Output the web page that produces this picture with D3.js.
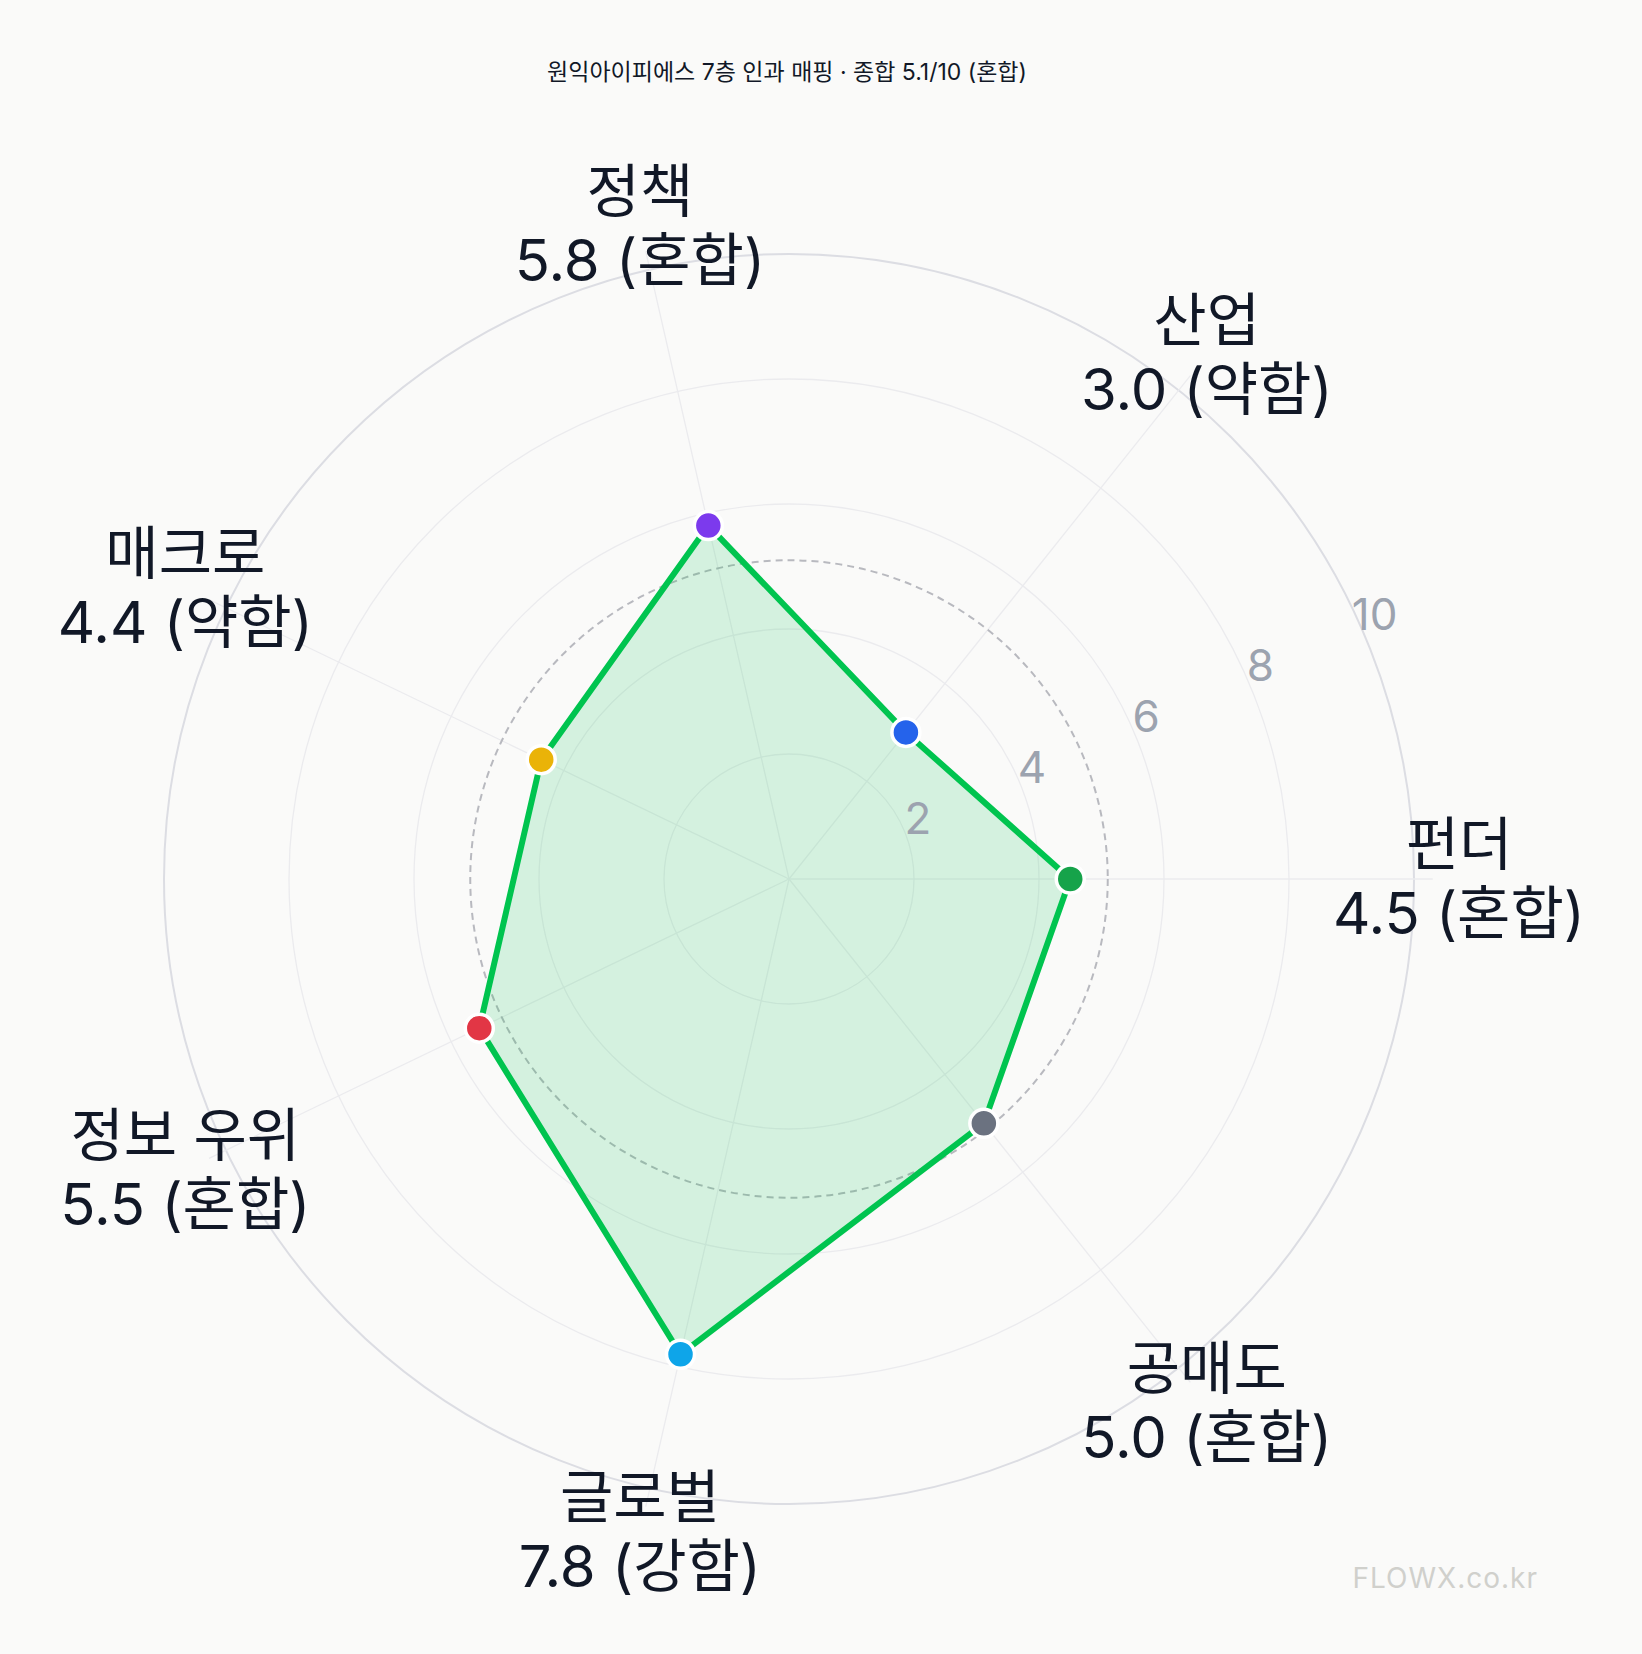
<!DOCTYPE html>
<html><head><meta charset="utf-8">
<script src="https://cdn.jsdelivr.net/npm/d3@7"></script>
<style>body{margin:0;background:#fafaf9;}svg{display:block;font-family:Inter,"Noto Sans CJK KR",sans-serif;}</style>
</head><body><div id="chart"></div>
<script>
const axes = ["펀더", "산업", "정책", "매크로", "정보 우위", "글로벌", "공매도"];
const scores = [4.5, 3.0, 5.8, 4.4, 5.5, 7.8, 5.0];
const grades = ["혼합", "약함", "혼합", "약함", "혼합", "강함", "혼합"];
const colors = ["#16a34a", "#2563eb", "#7c3aed", "#eab308", "#e23645", "#0ea5e9", "#6b7280"];
const ringTicks = [2, 4, 6, 8, 10];
const overall = 5.1;

const W = 1642, H = 1654, cx = 789, cy = 879, R = 625;
const svg = d3.select("#chart").append("svg").attr("width", W).attr("height", H);
svg.append("rect").attr("width", W).attr("height", H).attr("fill", "#fafaf9");

const r = d3.scaleLinear().domain([0, 10]).range([0, R]);
const ang = i => -i * 2 * Math.PI / axes.length;
const g = svg.append("g").attr("transform", `translate(${cx},${cy})`);

ringTicks.forEach(t => g.append("circle").attr("r", r(t)).attr("fill", "none")
  .attr("stroke", t === 10 ? "#dcdde3" : "#ebebee").attr("stroke-width", t === 10 ? 2 : 1.3));
axes.forEach((a, i) => g.append("line").attr("x2", r(10.3) * Math.cos(ang(i))).attr("y2", r(10.3) * Math.sin(ang(i)))
  .attr("stroke", "#ebebee").attr("stroke-width", 1.3));
g.append("circle").attr("r", r(overall)).attr("fill", "none").attr("stroke", "#b8b9bf")
  .attr("stroke-width", 2).attr("stroke-dasharray", "7,5");

const pts = scores.map((v, i) => [r(v) * Math.cos(ang(i)), r(v) * Math.sin(ang(i))]);
g.append("path").attr("d", d3.line().curve(d3.curveLinearClosed)(pts))
  .attr("fill", "rgba(0,192,75,0.15)").attr("stroke", "#00c44f").attr("stroke-width", 6).attr("stroke-linejoin", "round");

const ta = -Math.PI / 7.5;
ringTicks.forEach(t => g.append("text").attr("x", (r(t) + 16) * Math.cos(ta)).attr("y", (r(t) + 16) * Math.sin(ta))
  .attr("text-anchor", "middle").attr("dominant-baseline", "middle").attr("fill", "#9ca3af").attr("font-size", 44).text(t));

pts.forEach((p, i) => g.append("circle").attr("cx", p[0]).attr("cy", p[1]).attr("r", 14)
  .attr("fill", colors[i]).attr("stroke", "#fff").attr("stroke-width", 3.5));

axes.forEach((a, i) => {
  const lr = r(10.72), x = lr * Math.cos(ang(i)), y = lr * Math.sin(ang(i));
  const t = g.append("text").attr("text-anchor", "middle").attr("fill", "#111827").attr("font-size", 58);
  t.append("tspan").attr("x", x).attr("y", y - 14).text(a);
  t.append("tspan").attr("x", x).attr("y", y + 55).text(`${scores[i].toFixed(1)} (${grades[i]})`);
});

svg.append("text").attr("x", 787).attr("y", 80).attr("text-anchor", "middle").attr("font-size", 23)
  .attr("fill", "#111827").text(`원익아이피에스 7층 인과 매핑 · 종합 ${overall}/10 (혼합)`);
svg.append("text").attr("x", 1538).attr("y", 1588).attr("text-anchor", "end").attr("font-size", 28)
  .attr("fill", "#d0d0cc").attr("letter-spacing", 1).text("FLOWX.co.kr");
</script></body></html>
